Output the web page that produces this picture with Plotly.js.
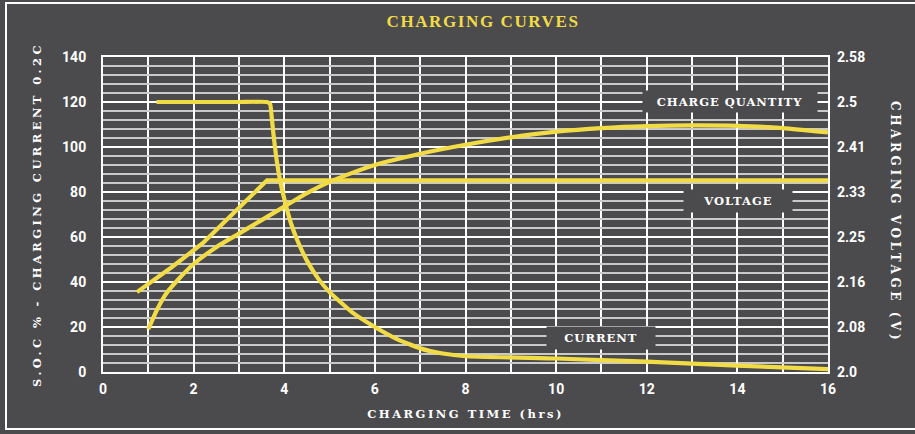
<!DOCTYPE html>
<html>
<head>
<meta charset="utf-8">
<script src="https://cdn.plot.ly/plotly-3.0.1.min.js"></script>
<style>
html,body{margin:0;padding:0;background:#4b4b4d;}
#wrap{position:relative;width:915px;height:434px;overflow:hidden;}
#chart{width:915px;height:434px;}
#frame{position:absolute;left:5px;top:2px;width:920px;height:428px;border:2px solid #ffffff;border-right:none;pointer-events:none;box-sizing:border-box;}
.xtitle{letter-spacing:2.5px;}
.ytitle{letter-spacing:3.4px;}
.gtitle{letter-spacing:1.6px;}
</style>
</head>
<body>
<div id="wrap"><div id="chart"></div><div id="frame"></div></div>
<script>
// Charge quantity (S.O.C %)
const chargeX = [1.0, 1.2, 1.4, 1.7, 2.0, 2.5, 3.0, 3.5, 4.0, 4.5, 5.0, 5.5, 6.0, 7.0, 8.0, 9.0, 10.0, 11.0, 12.0, 13.0, 14.0, 15.0, 16.0];
const chargeY = [19, 28, 35, 42, 48, 55.5, 61.5, 67.5, 73.5, 79.5, 84.5, 88.5, 92, 97, 101, 104.3, 106.8, 108.4, 109.3, 109.6, 109.4, 108.4, 106.5];
// Charging current (0.2C)
const currentX = [1.18, 2.0, 3.0, 3.62, 3.69, 3.72, 3.76, 3.82, 3.9, 4.0, 4.15, 4.3, 4.5, 4.75, 5.0, 5.5, 6.0, 6.5, 7.0, 7.5, 8.0, 10.0, 12.0, 14.0, 16.0];
const currentY = [120, 120, 120, 120, 119, 114, 106, 96, 86, 77, 66, 58, 49.5, 41.5, 35.5, 26.5, 20, 14.5, 10.5, 8.2, 7.0, 6.0, 4.6, 2.8, 1.3];
// Charging voltage (V)
const voltX = [0.75, 1.5, 2.2, 2.9, 3.55, 3.62, 3.7, 16.0];
const voltY = [2.147, 2.192, 2.237, 2.295, 2.349, 2.353, 2.353, 2.353];
// Axis ticks
const xTicks = [0, 2, 4, 6, 8, 10, 12, 14, 16];
const yTicks = [0, 20, 40, 60, 80, 100, 120, 140];
const y2Labels = ['2.0', '2.08', '2.16', '2.25', '2.33', '2.41', '2.5', '2.58'];
const v0 = 2.0, v1 = 2.58;

const yellow = '#f2dc45';
const bg = '#4b4b4d';
const lineStyle = {color: yellow, width: 4.2};

const traces = [
  {x: currentX, y: currentY, type: 'scatter', mode: 'lines', line: Object.assign({shape: 'spline', smoothing: 0.4}, lineStyle), name: 'Current', hoverinfo: 'skip'},
  {x: chargeX, y: chargeY, type: 'scatter', mode: 'lines', line: Object.assign({shape: 'spline', smoothing: 0.6}, lineStyle), name: 'Charge quantity', hoverinfo: 'skip'},
  {x: voltX, y: voltY, type: 'scatter', mode: 'lines', yaxis: 'y2', line: Object.assign({shape: 'linear'}, lineStyle), name: 'Voltage', hoverinfo: 'skip'}
];

const y2Vals = y2Labels.map((_, i) => v0 + i * (v1 - v0) / (y2Labels.length - 1));
const tickFont = {family: 'Roboto, "DejaVu Sans", Arial, sans-serif', size: 14, color: '#ffffff', weight: 700};
const labelFont = {family: '"DejaVu Serif", "Liberation Serif", serif', size: 11.5, color: '#ffffff', weight: 700};

const layout = {
  width: 915, height: 434,
  paper_bgcolor: bg, plot_bgcolor: bg,
  font: {family: 'Roboto, sans-serif'},
  margin: {l: 103, r: 87, t: 57, b: 62},
  showlegend: false,
  title: {text: 'CHARGING CURVES', font: {family: '"Liberation Serif", serif', size: 17, color: yellow, weight: 700}, x: 483 / 915, xanchor: 'center', y: 1 - 21 / 434, yanchor: 'middle', xref: 'container', yref: 'container'},
  xaxis: {
    range: [0, 16], tickvals: xTicks, ticktext: xTicks.map(String),
    showgrid: true, gridcolor: '#ffffff', gridwidth: 2,
    minor: {dtick: 1, showgrid: true, gridcolor: '#ffffff', gridwidth: 2},
    showline: true, linecolor: '#ffffff', linewidth: 2, mirror: true,
    zeroline: false, ticks: '', tickfont: tickFont, ticklabelstandoff: 3,
    title: {text: 'CHARGING TIME (hrs)', font: labelFont, standoff: 14}
  },
  yaxis: {
    range: [0, 140], tickvals: yTicks, ticktext: yTicks.map(String),
    showgrid: true, gridcolor: '#ffffff', gridwidth: 2.2,
    minor: {dtick: 4, showgrid: true, gridcolor: '#c9c9c9', gridwidth: 1.3},
    showline: true, linecolor: '#ffffff', linewidth: 2, mirror: true,
    zeroline: false, ticks: '', tickfont: tickFont, ticklabelstandoff: 12,
    title: {text: 'S.O.C % - CHARGING CURRENT 0.2C', font: labelFont, standoff: 18}
  },
  yaxis2: {
    overlaying: 'y', side: 'right', range: [v0, v1],
    tickvals: y2Vals, ticktext: y2Labels, showgrid: false, zeroline: false,
    ticks: '', tickfont: tickFont, ticklabelstandoff: 8
  },
  annotations: [
    {text: 'CHARGE QUANTITY', x: 13.84, y: 120.3, xref: 'x', yref: 'y', showarrow: false, bgcolor: bg, width: 172, height: 19, font: labelFont, valign: 'middle'},
    {text: 'VOLTAGE', x: 14.02, y: 76, xref: 'x', yref: 'y', showarrow: false, bgcolor: bg, width: 106, height: 20, font: labelFont, valign: 'middle'},
    {text: 'CURRENT', x: 11.0, y: 15.1, xref: 'x', yref: 'y', showarrow: false, bgcolor: bg, width: 106, height: 20, font: labelFont, valign: 'middle'},
    {text: 'CHARGING VOLTAGE (V)', x: 0, y: 0, xref: 'paper', yref: 'paper', showarrow: false, textangle: 90, font: Object.assign({}, labelFont, {size: 12}), xanchor: 'center', yanchor: 'middle'}
  ]
};
// place the right title in pixels converted to plot-relative paper coords
layout.annotations[3].x = (895 - 103) / (915 - 103 - 87);
layout.annotations[3].y = (434 - 62 - 222) / (434 - 57 - 62);

Plotly.newPlot('chart', traces, layout, {staticPlot: true}).then(() => {
  document.querySelectorAll('.annotation-text').forEach(t => {
    const s = t.textContent;
    t.style.letterSpacing = s.indexOf('VOLTAGE (V)') >= 0 ? '3.6px' : '1px';
  });
});
</script>
</body>
</html>
